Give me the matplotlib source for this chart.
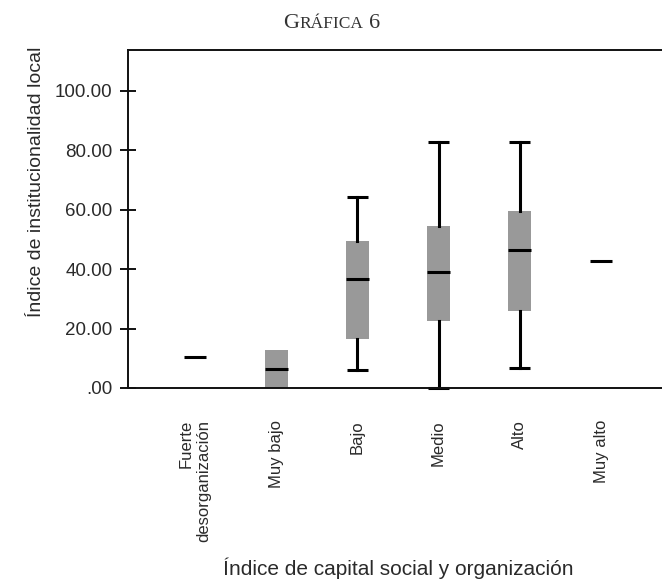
import matplotlib
matplotlib.use("Agg")
import matplotlib.pyplot as plt

categories = ["Fuerte\ndesorganización", "Muy bajo", "Bajo", "Medio", "Alto", "Muy alto"]
whisker_low = [10.5, 0.0, 6.1, 0.0, 6.6, 42.7]
q1 = [10.5, 0.0, 16.6, 22.7, 26.0, 42.7]
median = [10.5, 6.4, 36.6, 39.2, 46.6, 42.7]
q3 = [10.5, 12.8, 49.5, 54.5, 59.6, 42.7]
whisker_high = [10.5, 12.8, 64.3, 82.7, 82.7, 42.7]
show_caps = [False, False, True, True, True, False]
yticks = [0, 20, 40, 60, 80, 100]
ytick_labels = [".00", "20.00", "40.00", "60.00", "80.00", "100.00"]

W, H = 662, 581
fig = plt.figure(figsize=(W / 100, H / 100), dpi=100)
left, right, bottom, top = 128, 668, 388, 50
ax = fig.add_axes([left / W, 1 - bottom / H, (right - left) / W, (bottom - top) / H])

stats = []
for i, c in enumerate(categories):
    stats.append(dict(label=c, med=median[i], q1=q1[i], q3=q3[i],
                      whislo=whisker_low[i], whishi=whisker_high[i], fliers=[]))

pos = list(range(len(categories)))
bp = ax.bxp(stats, positions=pos, widths=0.28, patch_artist=True, showfliers=False,
            boxprops=dict(facecolor="#999999", edgecolor="none", linewidth=0),
            medianprops=dict(color="black", linewidth=2.2, solid_capstyle="butt"),
            whiskerprops=dict(color="black", linewidth=2.2),
            capprops=dict(color="black", linewidth=2.2, solid_capstyle="butt"),
            capwidths=0.26)
for i, s in enumerate(show_caps):
    for art in (bp["caps"][2 * i], bp["caps"][2 * i + 1]):
        art.set_clip_on(False)
        if not s:
            art.set_visible(False)
    if not s:
        bp["whiskers"][2 * i].set_visible(False)
        bp["whiskers"][2 * i + 1].set_visible(False)

ax.set_xlim(-0.825, 5.825)
ax.set_ylim(0, 113.8)

font = "Liberation Sans"
tc = "#2a2a2a"
ax.set_yticks(yticks)
ax.set_yticklabels(ytick_labels, fontsize=13.5, family=font, color=tc)
ax.tick_params(axis="y", direction="inout", length=12, width=1.3, pad=5)
ax.set_xticks(pos)
ax.set_xticklabels(categories, rotation=90, fontsize=12, family=font, color=tc,
                   ha="center", va="top", multialignment="right")
ax.tick_params(axis="x", length=0, pad=23)

for sp in ax.spines.values():
    sp.set_linewidth(1.4)
    sp.set_color("#111111")

fig.text(37 / W, 1 - 182 / H, "Índice de institucionalidad local", fontsize=14,
         family=font, color=tc, rotation=90, ha="center", va="center")
fig.text(398 / W, 1 - 568 / H, "Índice de capital social y organización", fontsize=15,
         family=font, color=tc, ha="center", va="center")

# Title in small caps style
serif = "Liberation Serif"
t1 = fig.text(283 / W, 1 - 28 / H, "G", fontsize=16, family=serif, color="#333333",
              ha="left", va="baseline")
fig.canvas.draw()
bb = t1.get_window_extent()
t2 = fig.text(bb.x1 / W + 0.001, 1 - 28 / H, "RÁFICA", fontsize=12.5, family=serif,
              color="#333333", ha="left", va="baseline")
fig.canvas.draw()
bb2 = t2.get_window_extent()
fig.text(bb2.x1 / W + 0.008, 1 - 28 / H, "6", fontsize=16, family=serif, color="#333333",
         ha="left", va="baseline")

fig.savefig("out.png", dpi=100)
